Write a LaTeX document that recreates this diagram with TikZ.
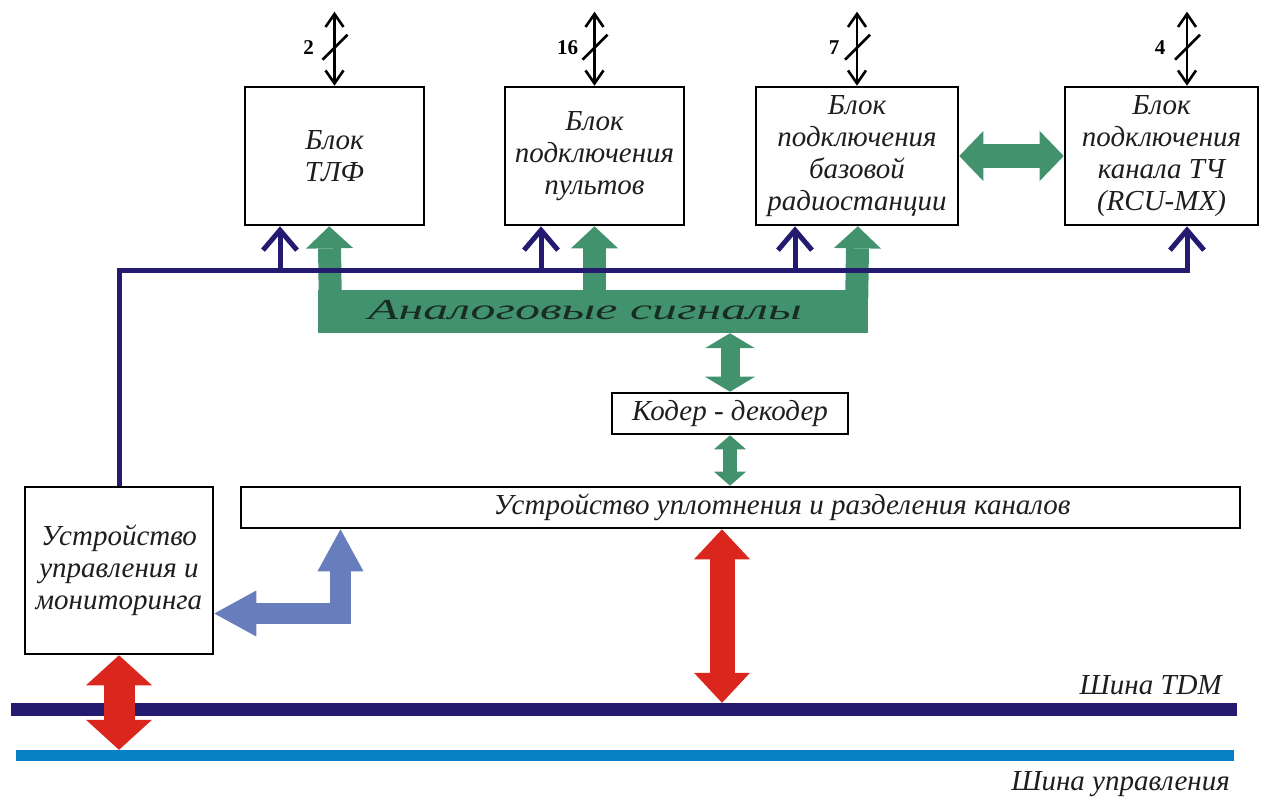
\documentclass[tikz,border=0pt]{standalone}
\usepackage{fontspec}
\setmainfont{Liberation Serif}
\usetikzlibrary{arrows.meta,calc}
\definecolor{navy}{RGB}{36,26,112}
\definecolor{fgreen}{RGB}{66,146,110}
\definecolor{fred}{RGB}{218,38,28}
\definecolor{fblue}{RGB}{104,126,188}
\definecolor{cbus}{RGB}{8,128,198}
\definecolor{txt}{RGB}{30,30,30}
\definecolor{anatxt}{RGB}{24,44,34}
\begin{document}
\begin{tikzpicture}[x=1pt,y=-1pt,line join=miter,
  box/.style={draw=black,line width=2.6pt,fill=white,align=center,
    font=\itshape\fontsize{29}{32}\selectfont,text=txt,inner sep=0pt},
  lbl/.style={font=\itshape\fontsize{29}{32}\selectfont,text=txt,inner sep=0pt},
  num/.style={font=\bfseries\fontsize{21}{24}\selectfont,inner sep=0pt},
  io/.style={line width=2.6pt,{Straight Barb[length=13pt,width=18pt]}-{Straight Barb[length=13pt,width=18pt]}},
  slashline/.style={line width=2.6pt},
  ctl/.style={draw=navy,line width=5pt},
  ctlarrow/.style={ctl,-{Straight Barb[length=20pt,width=34pt]}},
  garm/.style={draw=fgreen,line width=23pt,-{Triangle[length=22pt,width=47pt,line width=0pt]}},
  bus/.style={inner sep=0pt,minimum height=#1},
]
\useasboundingbox (0,0) rectangle (1288,796);

% buses
\node[bus=13pt,fill=navy,minimum width=1226pt] (tdm) at (624,709.5) {};
\node[bus=11pt,fill=cbus,minimum width=1218pt] (cbusn) at (625,755.5) {};
\node[lbl,anchor=base east] (tdmlbl) at (1222,694) {Шина TDM};
\node[lbl,anchor=base east] (cbuslbl) at (1230,790) {Шина управления};

% top blocks
\node[box,minimum width=179pt,minimum height=138pt] (b1) at (334.5,156) {Блок\\ТЛФ};
\node[box,minimum width=179pt,minimum height=138pt] (b2) at (594.5,156) {Блок\\подключения\\пультов};
\node[box,minimum width=202pt,minimum height=138pt] (b3) at (857,156) {Блок\\подключения\\базовой\\радиостанции};
\node[box,minimum width=193pt,minimum height=138pt] (b4) at (1161.5,156) {Блок\\подключения\\канала ТЧ\\(RCU-MX)};

% coder, multiplexer, monitoring
\node[box,minimum width=236pt,minimum height=41pt] (kod) at (730,413.5) {Кодер - декодер};
\node[box,minimum width=999pt,minimum height=41pt] (upl) at (740.5,507.5) {};
\node[lbl] (upltxt) at (782,507) {Устройство уплотнения и разделения каналов};
\node[box,minimum width=188pt,minimum height=167pt] (mon) at (119,570.5) {Устройство\\управления и\\мониторинга};

% analog signals bar
\node[fill=fgreen,minimum width=550pt,minimum height=43pt,inner sep=0pt] (ana) at (593,311.5) {};
\node[font=\itshape\fontsize{29}{30}\selectfont,text=anatxt,xscale=1.72,inner sep=0pt] (anatxt) at (585,310) {Аналоговые сигналы};
\draw[garm] ($(ana.north west)+(12.5,10)$) -- ($(b1.south west)+(85.5,0)$);
\draw[garm] ($(ana.north -| b2.south)+(0,10)$) -- (b2.south);
\draw[garm] ($(ana.north east)+(-11.5,10)$) -- ($(b3.south east)+(-101.5,0)$);

% green double arrows
\draw[fgreen,line width=24pt,{Triangle[length=24pt,width=50pt,line width=0pt]}-{Triangle[length=24pt,width=50pt,line width=0pt]}] (b3.east) -- (b4.west);
\draw[fgreen,line width=19pt,{Triangle[length=15pt,width=50pt,line width=0pt]}-{Triangle[length=15pt,width=50pt,line width=0pt]}] (ana.south -| kod.north) -- (kod.north);
\draw[fgreen,line width=14pt,{Triangle[length=14pt,width=32pt,line width=0pt]}-{Triangle[length=14pt,width=32pt,line width=0pt]}] (kod.south) -- (upl.north -| kod.south);

% control lines (navy)
\coordinate (nb) at (0,270);
\coordinate (c1) at (280,0);
\coordinate (c2) at (541,0);
\coordinate (c3) at (795,0);
\coordinate (t4) at (1187,0);
\draw[ctlarrow] (mon.north) -- (mon.north |- nb) -- (t4 |- nb) -- (t4 |- b4.south);
\draw[ctlarrow] (c1 |- nb) -- (c1 |- b1.south);
\draw[ctlarrow] (c2 |- nb) -- (c2 |- b2.south);
\draw[ctlarrow] (c3 |- nb) -- (c3 |- b3.south);

% external interfaces
\draw[io] (b1.north) -- ++(0,-74);
\draw[io] (b2.north) -- ++(0,-74);
\draw[io] (b3.north) -- ++(0,-74);
\draw[io] (t4 |- b4.north) -- ++(0,-74);
\draw[slashline] ($(b1.north)+(-12,-26)$) -- ++(25,-25);
\draw[slashline] ($(b2.north)+(-12,-26)$) -- ++(25,-25);
\draw[slashline] ($(b3.north)+(-12,-26)$) -- ++(25,-25);
\draw[slashline] ($(t4 |- b4.north)+(-12,-26)$) -- ++(25,-25);
\node[num] (n1) at ($(b1.north)+(-26,-38)$) {2};
\node[num] (n2) at ($(b2.north)+(-27,-38)$) {16};
\node[num] (n3) at ($(b3.north)+(-23,-38)$) {7};
\node[num] (n4) at ($(t4 |- b4.north)+(-27,-38)$) {4};

% blue L arrow
\coordinate (bc) at (340.5,613.5);
\draw[fblue,line width=21pt,{Triangle[length=42pt,width=46pt,line width=0pt]}-{Triangle[length=42pt,width=46pt,line width=0pt]}] (bc -| mon.east) -- (bc) -- (bc |- upl.south);

% red arrows
\coordinate (r2) at (722,0);
\draw[fred,line width=31pt,{Triangle[length=30pt,width=66pt,line width=0pt]}-{Triangle[length=30pt,width=66pt,line width=0pt]}] (mon.south) -- (cbusn.north -| mon.south);
\draw[fred,line width=25pt,{Triangle[length=30pt,width=56pt,line width=0pt]}-{Triangle[length=30pt,width=56pt,line width=0pt]}] (r2 |- upl.south) -- (r2 |- tdm.north);
\end{tikzpicture}
\end{document}
